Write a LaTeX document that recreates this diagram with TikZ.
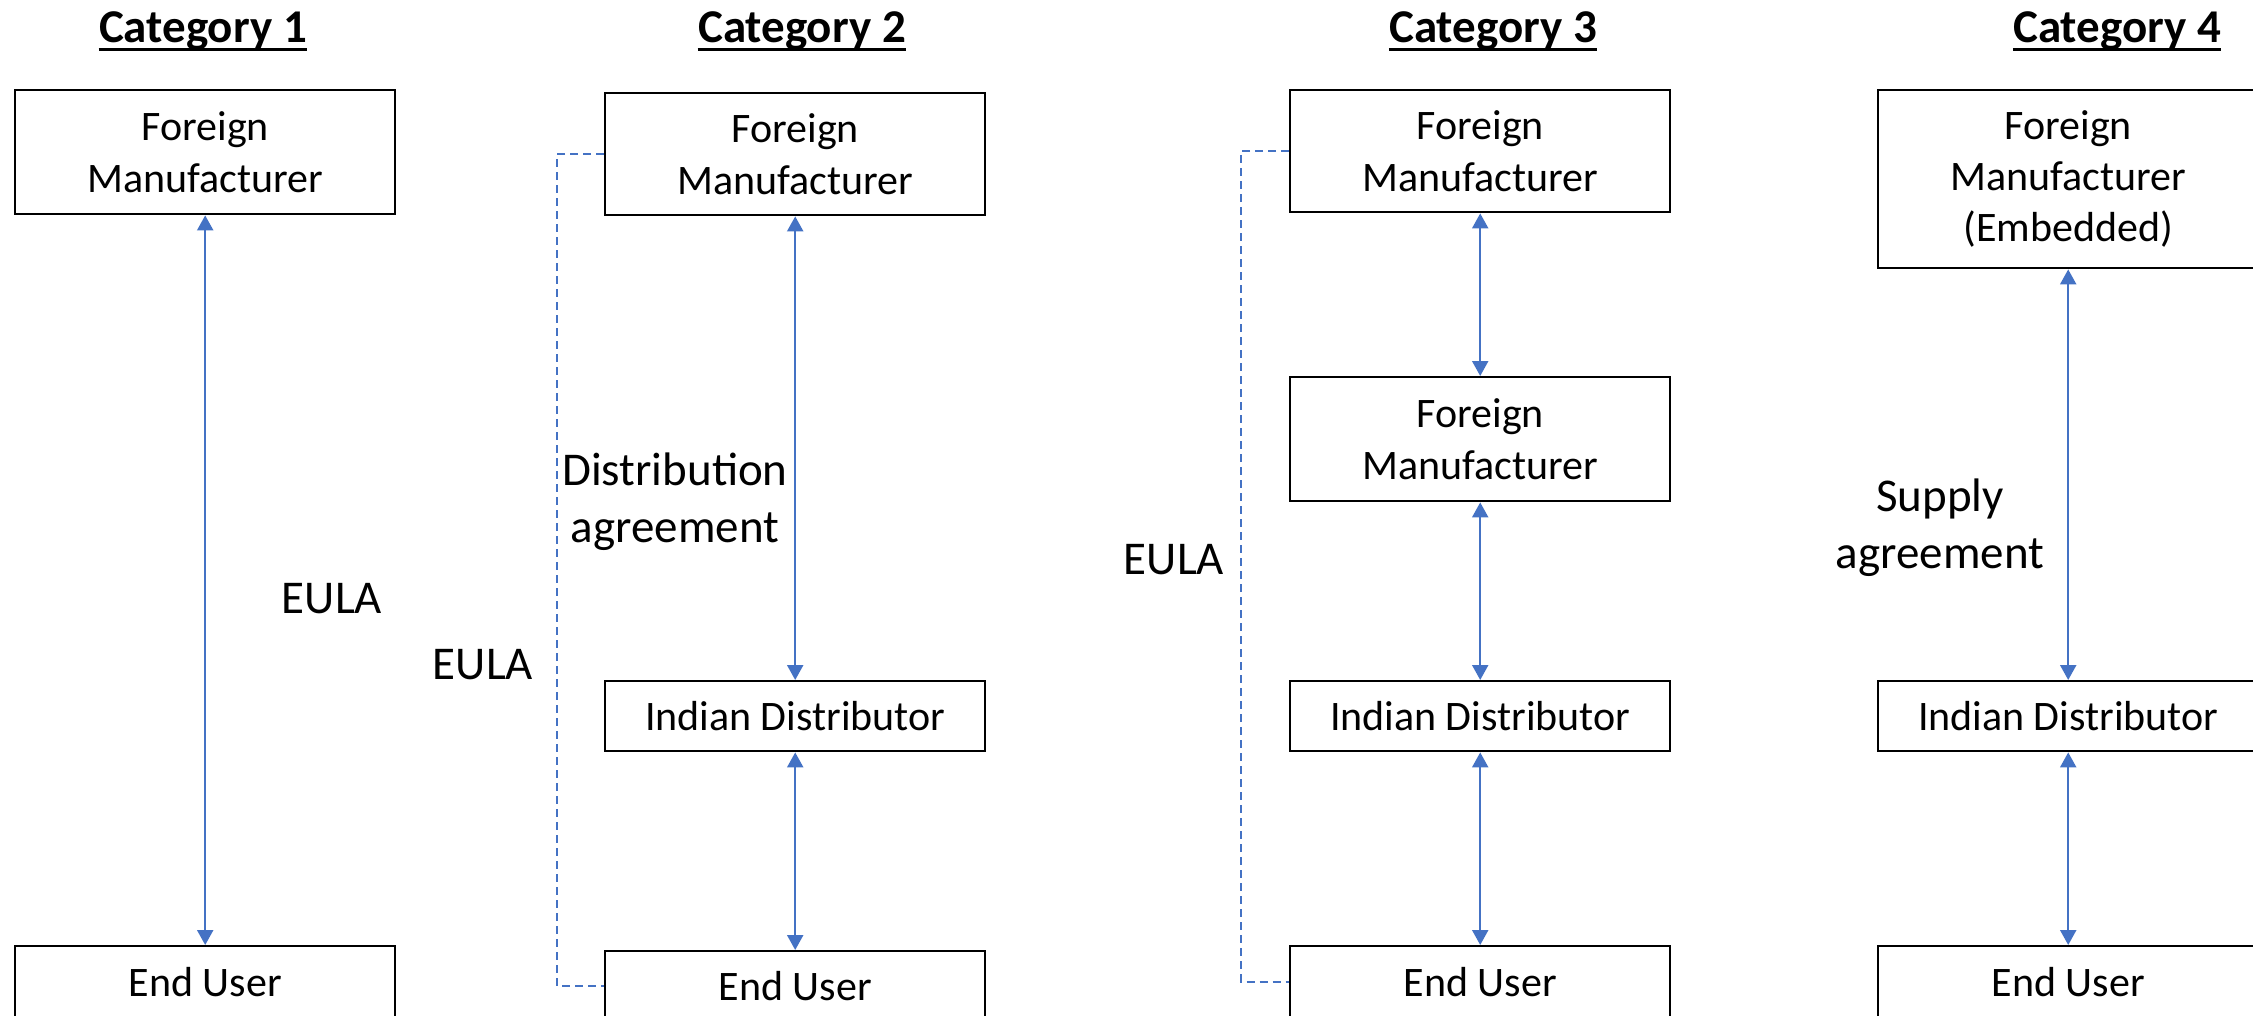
\documentclass[tikz,border=0pt]{standalone}
\usepackage{fontspec}
\setmainfont{Carlito}
\usetikzlibrary{arrows.meta}
\definecolor{ablue}{HTML}{4472C4}
\begin{document}
\begin{tikzpicture}[x=0.5pt,y=-0.5pt,
  box/.style={draw=black,line width=1.2pt,minimum width=190pt,inner sep=0pt,
    align=center,anchor=north west,font=\fontsize{21}{25.6}\selectfont},
  lbl/.style={inner sep=0pt,align=center,font=\fontsize{23.5}{28.5}\selectfont},
  ttl/.style={inner sep=0pt,font=\bfseries\fontsize{23.5}{28}\selectfont},
  arr/.style={draw=ablue,line width=1.1pt,{Triangle[width=8pt,length=7.5pt]}-{Triangle[width=8pt,length=7.5pt]}},
  dsh/.style={draw=ablue,line width=0.9pt,dash pattern=on 4pt off 2.5pt}]
\useasboundingbox (0,0) rectangle (2253,1016);
\clip (0,0) rectangle (2253,1016);
% titles
\node[ttl,anchor=base] (t1) at (203,43) {Category 1};
\node[ttl,anchor=base] (t2) at (802,43) {Category 2};
\node[ttl,anchor=base] (t3) at (1493,43) {Category 3};
\node[ttl,anchor=base] (t4) at (2117,43) {Category 4};
\foreach \t in {t1,t2,t3,t4}{
  \draw[line width=1.4pt] ([yshift=-3.2pt]\t.base west) -- ([yshift=-3.2pt]\t.base east);}
% category 1
\node[box,minimum height=62pt] (c1fm) at (14,89) {Foreign\\Manufacturer};
\node[box,minimum height=35.5pt] (c1eu) at (14,945) {End User};
\draw[arr] (c1fm.south) -- (c1eu.north);
\node[lbl] (e1) at (332,599) {EULA};
% category 2
\node[box,minimum height=61pt] (c2fm) at (604,92) {Foreign\\Manufacturer};
\node[box,minimum height=35pt] (c2id) at (604,680) {Indian Distributor};
\node[box,minimum height=35pt] (c2eu) at (604,950) {End User};
\draw[arr] (c2fm.south) -- (c2id.north);
\draw[arr] (c2id.south) -- (c2eu.north);
\draw[dsh] (c2fm.west) -- ++(-47,0) |- (c2eu.west);
\node[lbl] (d2) at (675,502) {Distribution\\agreement};
\node[lbl] (e2) at (483,665) {EULA};
% category 3
\node[box,minimum height=61pt] (c3fm) at (1289,89) {Foreign\\Manufacturer};
\node[box,minimum height=62pt] (c3fm2) at (1289,376) {Foreign\\Manufacturer};
\node[box,minimum height=35pt] (c3id) at (1289,680) {Indian Distributor};
\node[box,minimum height=35.5pt] (c3eu) at (1289,945) {End User};
\draw[arr] (c3fm.south) -- (c3fm2.north);
\draw[arr] (c3fm2.south) -- (c3id.north);
\draw[arr] (c3id.south) -- (c3eu.north);
\draw[dsh] (c3fm.west) -- ++(-48,0) |- (c3eu.west);
\node[lbl] (e3) at (1174,560) {EULA};
% category 4
\node[box,minimum height=89pt] (c4fm) at (1877,89) {Foreign\\Manufacturer\\(Embedded)};
\node[box,minimum height=35pt] (c4id) at (1877,680) {Indian Distributor};
\node[box,minimum height=35.5pt] (c4eu) at (1877,945) {End User};
\draw[arr] (c4fm.south) -- (c4id.north);
\draw[arr] (c4id.south) -- (c4eu.north);
\node[lbl] (s4) at (1940,528) {Supply\\agreement};
\end{tikzpicture}
\end{document}
